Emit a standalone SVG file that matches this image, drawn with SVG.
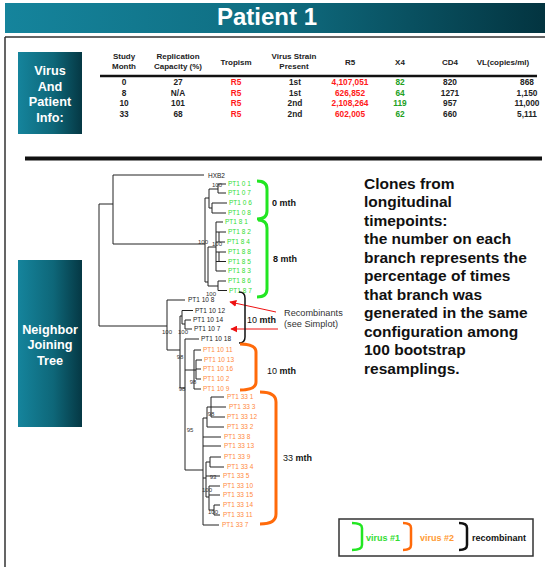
<svg xmlns="http://www.w3.org/2000/svg" width="545" height="567" viewBox="0 0 545 567">
<defs>
<linearGradient id="gBan" x1="0" y1="0" x2="1" y2="0">
<stop offset="0" stop-color="#15849c"/><stop offset="0.5" stop-color="#0f6d81"/><stop offset="1" stop-color="#033440"/>
</linearGradient>
<linearGradient id="gBox" x1="0" y1="0" x2="1" y2="0">
<stop offset="0" stop-color="#15849c"/><stop offset="0.55" stop-color="#0e6779"/><stop offset="1" stop-color="#053844"/>
</linearGradient>
<marker id="arr" viewBox="0 0 10 10" refX="9" refY="5" markerWidth="7" markerHeight="7" orient="auto" markerUnits="userSpaceOnUse">
<path d="M0,0 L10,5 L0,10 z" fill="#ee1111"/>
</marker>
<style>
text{font-family:"Liberation Sans",Arial,sans-serif}
.th{font-size:8px;font-weight:bold;fill:#222;text-anchor:middle}
.td{font-size:8.3px;font-weight:bold;fill:#222;text-anchor:middle}
.red{fill:#ff1a1a}
.grn{fill:#22a022}
.box{font-size:12.7px;font-weight:bold;fill:#fff;text-anchor:middle}
.br{stroke:#222;stroke-width:1;fill:none}
.lf{font-size:6.5px;fill:#222}
.lg{font-size:6.5px;fill:#33dd33}
.lo{font-size:6.5px;fill:#ff8a3d}
.bs{font-size:6px;fill:#333;text-anchor:middle}
.mth{font-size:9px;fill:#111}
.big{font-size:15.5px;font-weight:bold;fill:#111}
</style>
</defs>

<g id="header">
<rect x="5" y="3" width="540" height="30" fill="url(#gBan)"/>
<text x="267" y="25" font-size="24" font-weight="bold" fill="#fff" text-anchor="middle">Patient 1</text>
</g>
<g id="frame">
<path d="M5,37 H545 M5,37 V567" stroke="#333" stroke-width="1.5" fill="none"/>
<line x1="25" y1="158.5" x2="542" y2="158.5" stroke="#111" stroke-width="4"/>
</g>

<g id="info-box">
<rect x="18" y="52" width="64" height="82" fill="url(#gBox)"/>
<text class="box" x="50" y="75">Virus</text>
<text class="box" x="50" y="91">And</text>
<text class="box" x="50" y="106">Patient</text>
<text class="box" x="50" y="122">Info:</text>
</g>

<g id="table">
<text class="th" x="124" y="59">Study</text><text class="th" x="124" y="69">Month</text>
<text class="th" x="178" y="59">Replication</text><text class="th" x="178" y="69">Capacity (%)</text>
<text class="th" x="236" y="64.5">Tropism</text>
<text class="th" x="294" y="59">Virus Strain</text><text class="th" x="294" y="69">Present</text>
<text class="th" x="350" y="64.5">R5</text>
<text class="th" x="400" y="64.5">X4</text>
<text class="th" x="450" y="64.5">CD4</text>
<text class="th" x="503" y="64.5">VL(copies/ml)</text>
<line x1="100" y1="76" x2="537" y2="76" stroke="#111" stroke-width="2.5"/>
<g>
<text class="td" x="124" y="85.3">0</text><text class="td" x="178" y="85.3">27</text><text class="td red" x="236" y="85.3">R5</text><text class="td" x="295" y="85.3">1st</text><text class="td red" x="350" y="85.3">4,107,051</text><text class="td grn" x="400" y="85.3">82</text><text class="td" x="450" y="85.3">820</text><text class="td" x="527" y="85.3" text-anchor="end">868</text>
</g>
<g>
<text class="td" x="124" y="95.8">8</text><text class="td" x="178" y="95.8" font-weight="normal">N/A</text><text class="td red" x="236" y="95.8">R5</text><text class="td" x="295" y="95.8">1st</text><text class="td red" x="350" y="95.8">626,852</text><text class="td grn" x="400" y="95.8">64</text><text class="td" x="450" y="95.8">1271</text><text class="td" x="527" y="95.8" text-anchor="end">1,150</text>
</g>
<g>
<text class="td" x="124" y="106.3">10</text><text class="td" x="178" y="106.3">101</text><text class="td red" x="236" y="106.3">R5</text><text class="td" x="295" y="106.3">2nd</text><text class="td red" x="350" y="106.3">2,108,264</text><text class="td grn" x="400" y="106.3">119</text><text class="td" x="450" y="106.3">957</text><text class="td" x="527" y="106.3" text-anchor="end">11,000</text>
</g>
<g>
<text class="td" x="124" y="117">33</text><text class="td" x="178" y="117">68</text><text class="td red" x="236" y="117">R5</text><text class="td" x="295" y="117">2nd</text><text class="td red" x="350" y="117">602,005</text><text class="td grn" x="400" y="117">62</text><text class="td" x="450" y="117">660</text><text class="td" x="527" y="117" text-anchor="end">5,111</text>
</g>
</g>

<g id="tree-box">
<rect x="18" y="260" width="64" height="167" fill="url(#gBox)"/>
<text class="box" x="50" y="333.5" font-size="13">Neighbor</text>
<text class="box" x="50" y="349" font-size="13">Joining</text>
<text class="box" x="50" y="364.5" font-size="13">Tree</text>
</g>

<g id="connectors">
<path class="br" d="M99,204 V326 M99,204 H113 M113,175 V244 M113,175 H204 M113,244 H205
M205,198 V282 M205,198 H209 M209,189 V208 M209,189 H218 M218,184 V193 M218,184 H226 M218,193 H226
M209,208 H212 M212,203 V213 M212,203 H227 M212,213 H226
M205,282 H208 M208,247 V286 M208,247 H216 M216,222 V271 M216,222 H223 M216,232 H226 M216,242 H225 M216,252 H226 M216,261.5 H226 M216,271 H226
M219,232 V242 M219,252 V261.5
M208,286 H218 M218,281 V290.5 M218,281 H226 M218,290.5 H227
M99,326 H167 M167,300 V350 M167,300 H185 M167,350 H180
M180,316 V388 M180,316 H182 M182,310.5 V324 M182,310.5 H193 M182,324 H185 M185,320 V329 M185,320 H191 M185,329 H192
M180,388 H185 M185,339 V470 M185,339 H199
M185,370 H194 M194,350 V389 M194,350 H201 M194,389 H201 M194,370 H196 M196,360 V379 M196,360 H202 M196,369 H201 M196,379 H201
M185,470 H203 M203,418 V525
M203,418 H207 M207,407 V427 M207,407 H211 M211,397 V417 M211,397 H224 M211,407 H226 M211,417 H225 M207,427 H224
M203,437 H221 M203,446 H221
M203,478 H206 M206,462 V497 M206,462 H210 M210,457 V467 M210,457 H221 M210,467 H224 M206,476 H220
M206,497 H209 M209,486 V510 M209,486 H220 M209,495 H220 M209,510 H214 M214,505 V515 M214,505 H220 M214,515 H220
M203,525 H219"/>
<line x1="276" y1="312" x2="230" y2="302" stroke="#ee1111" stroke-width="1" marker-end="url(#arr)"/>
<line x1="278" y1="329" x2="231" y2="329" stroke="#ee1111" stroke-width="1" marker-end="url(#arr)"/>
</g>

<g id="bootstrap">
<text class="bs" x="217" y="187">100</text>
<text class="bs" x="203" y="244">100</text>
<text class="bs" x="217" y="246">100</text>
<text class="bs" x="211" y="296">100</text>
<text class="bs" x="167" y="334">100</text>
<text class="bs" x="183" y="334">100</text>
<text class="bs" x="180" y="359">98</text>
<text class="bs" x="193" y="384">98</text>
<text class="bs" x="182" y="391">98</text>
<text class="bs" x="190" y="432">95</text>
<text class="bs" x="211" y="416">98</text>
<text class="bs" x="213" y="479">93</text>
<text class="bs" x="207" y="492">100</text>
<text class="bs" x="213" y="514">100</text>
</g>

<g id="leaves">
<text class="lf" x="208" y="177.7" font-size="7.5">HXB2</text>
<text class="lg" x="228" y="186.3">PT1 0 1</text>
<text class="lg" x="228" y="195.3">PT1 0 7</text>
<text class="lg" x="229" y="205.3">PT1 0 6</text>
<text class="lg" x="228" y="215.3">PT1 0 8</text>
<text class="lg" x="225" y="224.3">PT1 8 1</text>
<text class="lg" x="228" y="234.3">PT1 8 2</text>
<text class="lg" x="227" y="244.3">PT1 8 4</text>
<text class="lg" x="228" y="254.3">PT1 8 8</text>
<text class="lg" x="228" y="263.8">PT1 8 5</text>
<text class="lg" x="228" y="273.3">PT1 8 3</text>
<text class="lg" x="228" y="283.3">PT1 8 6</text>
<text class="lg" x="229" y="292.8">PT1 8 7</text>
<text class="lf" x="188" y="302.3">PT1 10 8</text>
<text class="lf" x="195" y="312.8">PT1 10 12</text>
<text class="lf" x="193" y="322.3">PT1 10 14</text>
<text class="lf" x="194" y="331.3">PT1 10 7</text>
<text class="lf" x="201" y="341.3">PT1 10 18</text>
<text class="lo" x="203" y="352.3">PT1 10 11</text>
<text class="lo" x="204" y="362.3">PT1 10 13</text>
<text class="lo" x="203" y="371.3">PT1 10 16</text>
<text class="lo" x="203" y="381.3">PT1 10 2</text>
<text class="lo" x="203" y="391.3">PT1 10 9</text>
<text class="lo" x="227" y="399.3">PT1 33 1</text>
<text class="lo" x="229" y="409.3">PT1 33 3</text>
<text class="lo" x="227" y="419.3">PT1 33 12</text>
<text class="lo" x="227" y="429.3">PT1 33 2</text>
<text class="lo" x="224" y="439.3">PT1 33 8</text>
<text class="lo" x="224" y="448.3">PT1 33 13</text>
<text class="lo" x="224" y="459.3">PT1 33 9</text>
<text class="lo" x="227" y="469.3">PT1 33 4</text>
<text class="lo" x="223" y="478.3">PT1 33 5</text>
<text class="lo" x="223" y="488.3">PT1 33 10</text>
<text class="lo" x="223" y="497.3">PT1 33 15</text>
<text class="lo" x="223" y="507.3">PT1 33 14</text>
<text class="lo" x="223" y="517.3">PT1 33 11</text>
<text class="lo" x="222" y="527.3">PT1 33 7</text>
</g>

<g id="group-brackets" fill="none">
<path d="M257,181 Q267,181 267,189 L267,211 Q267,219 257,219" stroke="#22e622" stroke-width="3"/>
<path d="M258,220 Q267,220 267,228 L267,289 Q267,297 257,297" stroke="#22e622" stroke-width="3"/>
<path d="M239,292 Q245,292 245,298 L245,337 Q245,343 239,343" stroke="#111" stroke-width="1.5"/>
<path d="M240,344 Q256,344 256,352 L256,382 Q256,390 240,390" stroke="#ff6a0a" stroke-width="3"/>
<path d="M260,392 Q276,392 276,402 L276,514 Q276,524 260,524" stroke="#ff6a0a" stroke-width="3"/>
</g>

<g id="group-labels">
<text class="mth" x="272" y="206" font-weight="bold">0 mth</text>
<text class="mth" x="273" y="262" font-weight="bold">8 mth</text>
<text class="mth" x="247" y="323">10 <tspan font-weight="bold">mth</tspan></text>
<text class="mth" x="267" y="374">10 <tspan font-weight="bold">mth</tspan></text>
<text class="mth" x="283" y="461">33 <tspan font-weight="bold">mth</tspan></text>
<text x="284" y="316" font-size="9.2" fill="#333">Recombinants</text>
<text x="284" y="327" font-size="9.2" fill="#333">(see Simplot)</text>
</g>

<g id="note">
<text class="big" x="364" y="188.5">Clones from</text>
<text class="big" x="364" y="207">longitudinal</text>
<text class="big" x="364" y="225.5">timepoints:</text>
<text class="big" x="364" y="244">the number on each</text>
<text class="big" x="364" y="262.5">branch represents the</text>
<text class="big" x="364" y="281">percentage of times</text>
<text class="big" x="364" y="299.5">that branch was</text>
<text class="big" x="364" y="318">generated in the same</text>
<text class="big" x="364" y="336.5">configuration among</text>
<text class="big" x="364" y="355">100 bootstrap</text>
<text class="big" x="364" y="373.5">resamplings.</text>
</g>

<g id="legend">
<rect x="339" y="519" width="194" height="37" fill="#fff" stroke="#333" stroke-width="1.5"/>
<path d="M352,523 Q362,523 362,528 L362,545 Q362,550 352,550" stroke="#22e622" stroke-width="2.5" fill="none"/>
<text x="366" y="541" font-size="9" font-weight="bold" fill="#33dd33">virus #1</text>
<path d="M403,523 Q411,523 411,528 L411,545 Q411,550 403,550" stroke="#ff6a0a" stroke-width="2.5" fill="none"/>
<text x="420" y="541" font-size="9" font-weight="bold" fill="#ff9933">virus #2</text>
<path d="M459,523 Q467,523 467,528 L467,545 Q467,550 459,550" stroke="#111" stroke-width="2.5" fill="none"/>
<text x="472" y="541" font-size="9" font-weight="bold" fill="#111">recombinant</text>
</g>
</svg>
